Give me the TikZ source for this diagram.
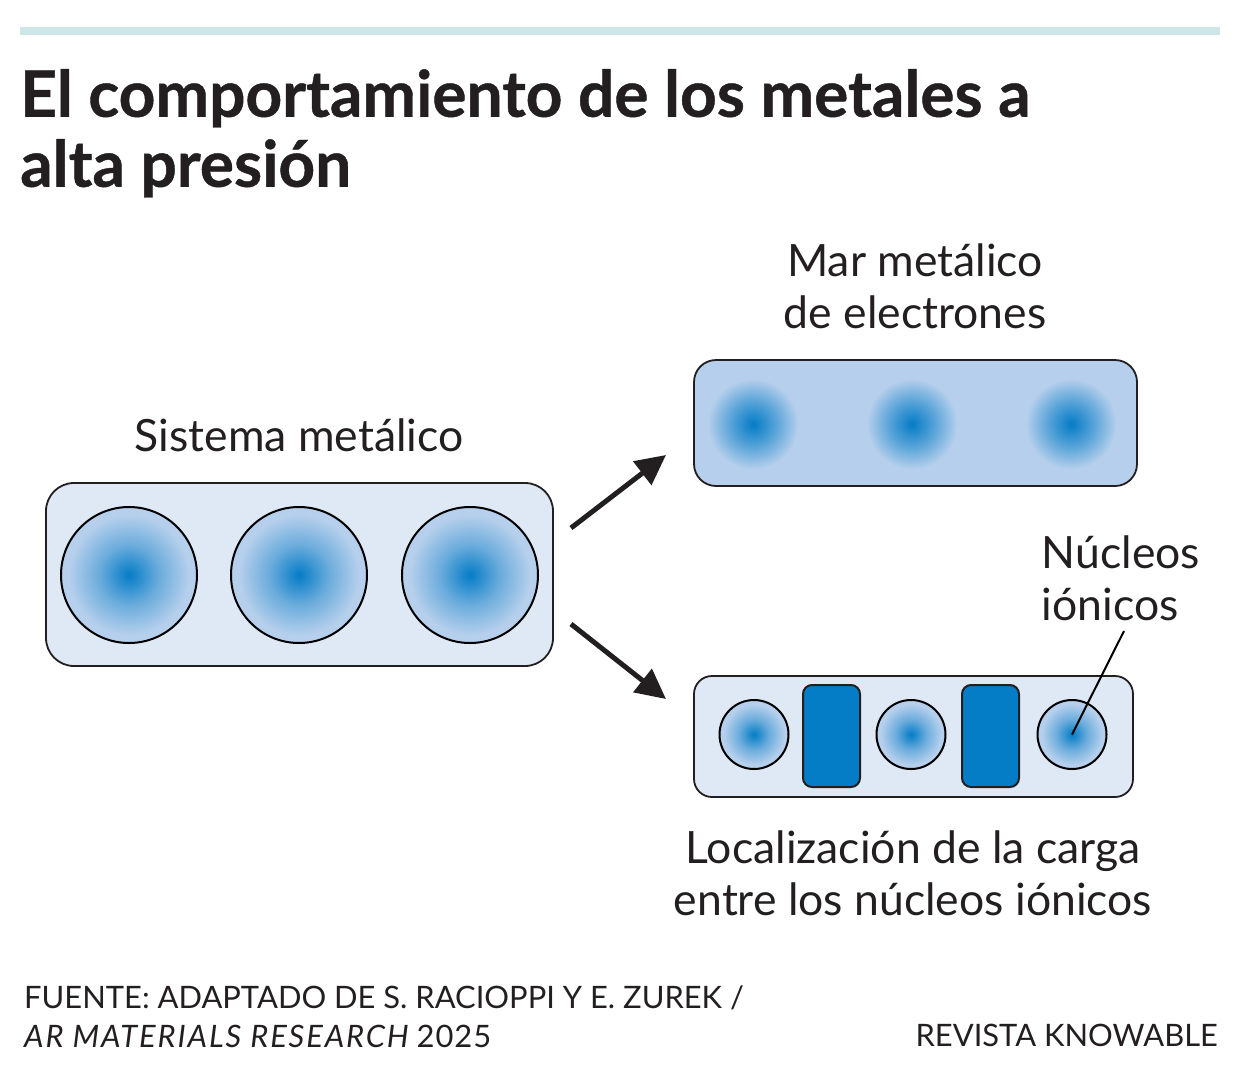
\documentclass[tikz,border=0pt]{standalone}
\usepackage{fontspec}
\setmainfont{Lato}
\usetikzlibrary{arrows.meta}
\definecolor{panelBlue}{HTML}{DFE9F6}
\definecolor{seaBlue}{HTML}{B5CFEC}
\definecolor{coreBlue}{HTML}{047CC6}
\definecolor{barTeal}{HTML}{CFE6E9}
\definecolor{inkBlack}{HTML}{231F20}
\colorlet{midBlue}{coreBlue!42!seaBlue}
\colorlet{cloudBlue}{coreBlue!55!seaBlue}
\colorlet{rimBlue}{coreBlue!3!seaBlue}
\pgfdeclareradialshading{ionfill}{\pgfpoint{0bp}{0bp}}{color(0bp)=(coreBlue); color(11bp)=(midBlue); color(22bp)=(seaBlue); color(50bp)=(seaBlue)}
\pgfdeclareradialshading{cloudfill}{\pgfpoint{0bp}{0bp}}{color(0bp)=(coreBlue); color(12bp)=(cloudBlue); color(24.4bp)=(rimBlue); color(25bp)=(seaBlue); color(50bp)=(seaBlue)}
\tikzset{
  panel/.style={draw=inkBlack, line width=1.8pt, anchor=north west, inner sep=0pt, outer sep=0pt},
  ion/.style={circle, draw=black, line width=2pt, inner sep=0pt, shade, shading=ionfill},
  cloud/.style={circle, inner sep=0pt, minimum size=90pt, shade, shading=cloudfill},
  charge/.style={draw=inkBlack, line width=2pt, fill=coreBlue, rounded corners=9pt, inner sep=0pt, minimum width=57pt, minimum height=102pt},
  label/.style={text=inkBlack, font=\fontsize{44.5}{52}\selectfont, align=center, inner sep=0pt},
  source/.style={text=inkBlack, font=\fontsize{30.9}{39}\selectfont, inner sep=0pt},
  flow/.style={-{Triangle[length=30pt,width=29pt]}, draw=inkBlack, line width=5pt}
}
\begin{document}
\begin{tikzpicture}[x=1pt,y=-1pt]
  \useasboundingbox (0,0) rectangle (1240,1066);
  \fill[barTeal] (20,27) rectangle (1220,35);

  \node[anchor=north west, text=inkBlack, font=\fontsize{64}{70}\selectfont\bfseries\addfontfeature{FakeBold=0.7}, align=left, inner sep=0pt] (title) at (20,69)
    {El comportamiento de los metales a\\alta presión};

  % left panel
  \node[panel, fill=panelBlue, rounded corners=28pt, minimum width=507pt, minimum height=183pt] (system) at (46,483) {};
  \foreach \name/\x in {a/129,b/299,c/470}{
    \node[ion, minimum size=136pt] (big\name) at (\x,575) {};
  }
  \node[label] (systemlabel) at (299,435) {Sistema metálico};

  % top panel
  \node[panel, fill=seaBlue, rounded corners=22pt, minimum width=443pt, minimum height=126pt] (sea) at (694,360) {};
  \foreach \name/\x in {a/753,b/912,c/1071}{
    \node[cloud] (cloud\name) at (\x,424) {};
  }
  \node[label] (sealabel) at (915,286.5) {Mar metálico\\de electrones};

  % bottom panel
  \node[panel, fill=panelBlue, rounded corners=18pt, minimum width=439pt, minimum height=121pt] (local) at (694,676) {};
  \foreach \name/\x in {a/754,b/911,c/1072}{
    \node[ion, minimum size=69pt] (small\name) at (\x,734.5) {};
  }
  \node[charge] (chargea) at (831.5,736) {};
  \node[charge] (chargeb) at (990.5,736) {};
  \node[label] (locallabel) at (913,873.5) {Localización de la carga\\entre los núcleos iónicos};

  \node[label, align=left] (ionlabel) at (1121,578.5) {Núcleos\\iónicos};
  \coordinate (leadertop) at (1124,631);
  \draw[black, line width=2pt] (leadertop) -- (smallc.center);

  \coordinate (flowstart) at (571,528);
  \coordinate (flowup) at (666,455);
  \coordinate (flowmid) at (571,624);
  \coordinate (flowdown) at (666,699);
  \draw[flow] (flowstart) -- (flowup);
  \draw[flow] (flowmid) -- (flowdown);

  \node[source, anchor=base west] (sourcea) at (24,1008) {FUENTE: ADAPTADO DE S. RACIOPPI Y E. ZUREK /};
  \node[source, anchor=base west] (sourceb) at (24,1047) {{\itshape\addfontfeature{LetterSpace=6}AR MATERIALS RESEARCH} \addfontfeature{LetterSpace=3}2025};
  \node[source, anchor=base east] (brand) at (1218,1046) {REVISTA KNOWABLE};
\end{tikzpicture}
\end{document}
